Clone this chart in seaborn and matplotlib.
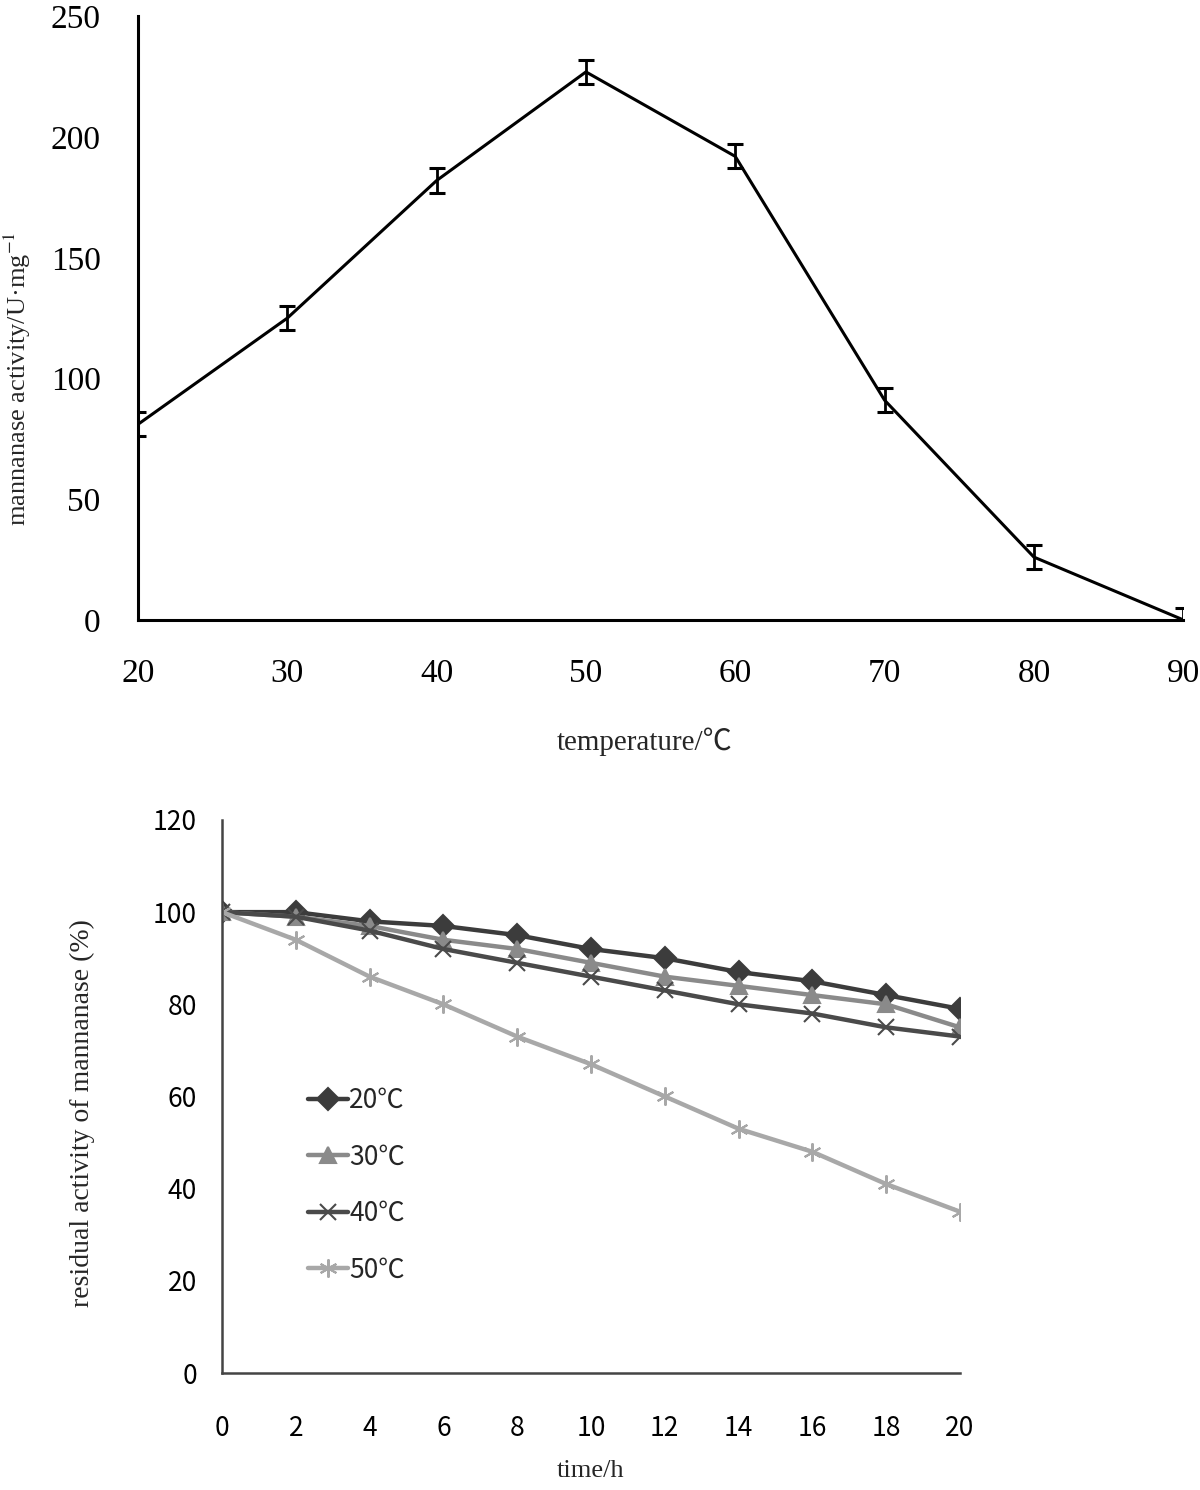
import pandas as pd
import numpy as np
import matplotlib as mpl
import matplotlib.pyplot as plt
import seaborn as sns
mpl.use('Agg')

sns.set_style('white')
plt.rcParams['font.family'] = ['Liberation Serif', 'Noto Sans CJK SC', 'DejaVu Sans']
plt.rcParams['axes.unicode_minus'] = False
plt.rcParams['mathtext.fontset'] = 'stix'

# 温度对酶活的影响
temp = [20, 30, 40, 50, 60, 70, 80, 90]
activity = [81, 125, 182, 227, 192, 91, 26, 0]
activity_err = [5, 5, 5, 5, 5, 5, 5, 5]

# 热稳定性
time_h = [0, 2, 4, 6, 8, 10, 12, 14, 16, 18, 20]
res_20 = [100, 100, 98, 97, 95, 92, 90, 87, 85, 82, 79]
res_30 = [100, 99, 97, 94, 92, 89, 86, 84, 82, 80, 75]
res_40 = [100, 99, 96, 92, 89, 86, 83, 80, 78, 75, 73]
res_50 = [100, 94, 86, 80, 73, 67, 60, 53, 48, 41, 35]
series_names = ['20℃', '30℃', '40℃', '50℃']

fig = plt.figure(figsize=(12, 14.9), dpi=100)

# ---- top chart ----
ax1 = fig.add_axes([0.115, 0.584, 0.871, 0.405])
df1 = pd.DataFrame({'temp': temp, 'activity': activity})
sns.lineplot(data=df1, x='temp', y='activity', color='black', linewidth=2.2, ax=ax1)
ax1.errorbar(temp, activity, yerr=activity_err, fmt='none', ecolor='black',
             elinewidth=2.0, capsize=6, capthick=2.2)
ax1.set_xlim(20, 90)
ax1.set_ylim(0, 250)
ax1.set_xticks(range(20, 91, 10))
ax1.set_yticks(range(0, 251, 50))
for s in ['top', 'right']:
    ax1.spines[s].set_visible(False)
for s in ['left', 'bottom']:
    ax1.spines[s].set_linewidth(2.2)
    ax1.spines[s].set_color('black')
ax1.tick_params(axis='both', direction='in', length=9, width=2, labelsize=24, colors='black')
ax1.tick_params(axis='x', pad=28)
ax1.tick_params(axis='y', pad=27)
ax1.set_xlabel('temperature/℃', fontsize=21)
ax1.xaxis.set_label_coords(0.485, -0.178)
ax1.set_ylabel('mannanase activity/U·mg$^{-1}$', fontsize=19)
ax1.yaxis.set_label_coords(-0.10, 0.40)

# ---- bottom chart ----
ax2 = fig.add_axes([0.185, 0.0785, 0.615, 0.3712])
colors = ['#3c3c3c', '#8a8a8a', '#4a4a4a', '#a8a8a8']
markers = ['D', '^', 'x', (6, 2, 0)]
sizes = [11, 11, 11, 13]
for name, vals, c, m, ms in zip(series_names, [res_20, res_30, res_40, res_50], colors, markers, sizes):
    sns.lineplot(x=time_h, y=vals, color=c, marker=m, linewidth=3.2, markersize=ms,
                 markeredgewidth=1.5, markeredgecolor=c, label=name, ax=ax2)
ax2.set_xlim(0, 20)
ax2.set_ylim(0, 120)
ax2.set_xticks(range(0, 21, 2))
ax2.set_yticks(range(0, 121, 20))
for s in ['top', 'right']:
    ax2.spines[s].set_visible(False)
for s in ['left', 'bottom']:
    ax2.spines[s].set_linewidth(1.8)
    ax2.spines[s].set_color('#444444')
ax2.tick_params(axis='x', direction='in', length=7, width=1.5, colors='#444444', pad=30)
ax2.tick_params(axis='y', direction='out', length=6, width=1.5, colors='#444444', pad=12)
for lab in ax2.get_xticklabels() + ax2.get_yticklabels():
    lab.set_family(['Noto Sans CJK SC', 'DejaVu Sans'])
    lab.set_fontsize(19)
    lab.set_color('black')
ax2.set_xlabel('time/h', fontsize=19)
ax2.xaxis.set_label_coords(0.5, -0.158)
ax2.set_ylabel('residual activity of mannanase (%)', fontsize=20)
ax2.yaxis.set_label_coords(-0.172, 0.47)

leg = ax2.legend(loc='upper left', bbox_to_anchor=(0.085, 0.56), frameon=False,
                 handlelength=1.5, handletextpad=0.05, labelspacing=1.12,
                 prop={'family': ['Noto Sans CJK SC', 'DejaVu Sans'], 'size': 19})
for h in leg.legend_handles:
    h.set_linewidth(3.2)

fig.savefig('out.png', dpi=100)
